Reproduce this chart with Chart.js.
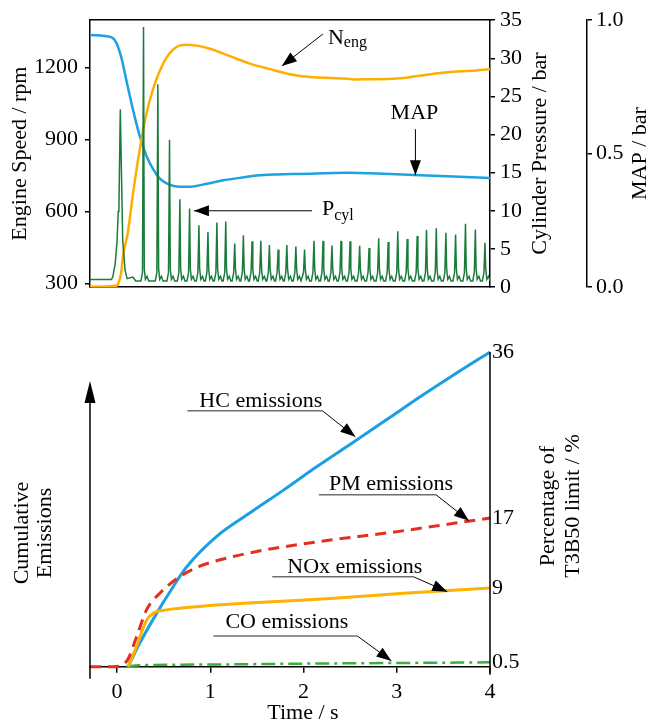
<!DOCTYPE html>
<html>
<head>
<meta charset="utf-8">
<script src="https://cdn.jsdelivr.net/npm/chart.js@4.4.1/dist/chart.umd.min.js"></script>
<style>
  html, body { margin: 0; padding: 0; background: #fff; }
  #page { position: relative; width: 649px; height: 725px; }
  #engine { position: absolute; left: 0; top: 0; }
  #emissions { position: absolute; left: 0; top: 310px; }
</style>
</head>
<body>
<div id="page">
  <canvas id="engine" width="649" height="310"></canvas>
  <canvas id="emissions" width="649" height="415"></canvas>
</div>
<script>
// shared time axis (s)
const T_MIN = -0.29;
const T_MAX = 4.0;
const timeTicks = [0, 1, 2, 3, 4];

// engine speed / rpm
const nengTime = [-0.29, -0.01, 0.008, 0.043, 0.064, 0.115, 0.169, 0.244, 0.316, 0.387, 0.459, 0.531, 0.602, 0.674, 0.746, 0.853, 0.996, 1.211, 1.426, 1.641, 1.856, 2.071, 2.286, 2.441, 2.577, 2.717, 2.9, 3.07, 3.25, 3.44, 3.61, 3.8, 4.0];
const nengRpm  = [286, 290, 295, 341, 416, 510, 668, 859, 1009, 1111, 1186, 1241, 1275, 1292, 1295, 1291, 1278, 1247, 1216, 1193, 1172, 1160, 1156, 1154, 1150, 1151, 1152, 1156, 1166, 1176, 1182, 1186, 1193];
const rpmTicks = [300, 600, 900, 1200];

// manifold absolute pressure / bar
const mapTime = [-0.29, -0.131, -0.046, -0.006, 0.047, 0.101, 0.172, 0.244, 0.316, 0.387, 0.459, 0.567, 0.674, 0.782, 0.961, 1.14, 1.319, 1.499, 1.714, 1.965, 2.467, 2.717, 3.18, 3.61, 4.0];
const mapBar  = [0.945, 0.941, 0.933, 0.914, 0.859, 0.773, 0.663, 0.565, 0.491, 0.442, 0.406, 0.383, 0.376, 0.376, 0.387, 0.400, 0.409, 0.418, 0.422, 0.424, 0.428, 0.426, 0.420, 0.414, 0.409];

// cylinder pressure / bar: cranking and the first firing
const pcylStartTime = [-0.29, -0.06, -0.046, -0.02, 0, 0.013, 0.02, 0.035, 0.061, 0.086, 0.108, 0.17, 0.2];
const pcylStartBar  = [1.0, 1.0, 1.3, 3.0, 6.0, 9.9, 10.3, 23.3, 6.0, 2.2, 1.1, 1.3, 0.8];
// then one peak per cycle
const peakTime = [0.284, 0.438, 0.563, 0.674, 0.778, 0.878, 0.975, 1.071, 1.166, 1.262, 1.355, 1.448, 1.542, 1.634, 1.728, 1.821, 1.918, 2.011, 2.112, 2.209, 2.305, 2.402, 2.499, 2.602, 2.703, 2.806, 2.908, 3.011, 3.112, 3.219, 3.319, 3.424, 3.527, 3.631, 3.737, 3.843, 3.946];
const peakBar  = [34.1, 26.6, 19.3, 11.5, 10.3, 8.1, 7.2, 8.45, 8.6, 5.7, 6.8, 6.0, 6.05, 5.5, 4.9, 5.5, 5.3, 4.9, 6.05, 6.05, 5.45, 6.05, 6.0, 5.4, 5.1, 6.4, 5.9, 7.3, 6.3, 6.7, 7.5, 7.7, 7.1, 6.9, 8.3, 7.55, 5.8];

// cumulative emissions, percentage of T3B50 limit
const hcTime  = [0.118, 0.244, 0.424, 0.602, 0.746, 1.069, 1.427, 1.785, 2.144, 2.538, 2.897, 3.255, 3.613, 4.0];
const hcPct   = [0, 2.7, 6.1, 9.15, 11.4, 14.9, 17.6, 20.2, 22.9, 25.7, 28.3, 30.9, 33.4, 36];
const pmTime  = [-0.29, -0.046, 0.101, 0.209, 0.316, 0.459, 0.674, 0.889, 1.247, 1.606, 1.965, 2.288, 2.897, 3.613, 4.0];
const pmPct   = [0, 0, 0.6, 3.4, 6.5, 8.4, 10.3, 11.5, 12.6, 13.4, 14.0, 14.5, 15.3, 16.4, 17];
const noxTime = [0.118, 0.209, 0.316, 0.387, 0.531, 0.889, 1.606, 2.288, 3.075, 4.0];
const noxPct  = [0, 2.3, 5.3, 6.1, 6.5, 6.9, 7.4, 7.8, 8.4, 9];
const coTime  = [0.1, 0.2, 1, 2, 3, 4];
const coPct   = [0, 0.15, 0.25, 0.35, 0.42, 0.5];
const pctTicks = [0.5, 9, 17, 36];

const SERIF = "'Liberation Serif', 'Times New Roman', serif";
const INK = '#000';
const TICK_FONT = { family: SERIF, size: 22 };
Chart.defaults.font.family = SERIF;
Chart.defaults.font.size = 22;
Chart.defaults.color = INK;

const toPoints = (xs, ys) => xs.map((x, i) => ({ x: x, y: ys[i] }));

// outline of one firing around its peak (dt in s, null = the peak itself)
const spikeShape = [[-0.028, 0.8], [-0.011, 1.9], [0, null], [0.008, 2.4], [0.02, 1.0], [0.038, 1.4], [0.055, 0.8]];
const pcylPoints = toPoints(pcylStartTime, pcylStartBar);
peakTime.forEach((t, i) => {
  spikeShape.forEach(([dt, p]) => pcylPoints.push({ x: t + dt, y: p === null ? peakBar[i] : p }));
});

function arrowHead(ctx, x0, y0, x1, y1, len, half) {
  const a = Math.atan2(y1 - y0, x1 - x0);
  const c = Math.cos(a), s = Math.sin(a);
  ctx.beginPath();
  ctx.moveTo(x1, y1);
  ctx.lineTo(x1 - len * c + half * s, y1 - len * s - half * c);
  ctx.lineTo(x1 - len * c - half * s, y1 - len * s + half * c);
  ctx.closePath();
  ctx.fill();
}

function arrow(ctx, x0, y0, x1, y1, width) {
  ctx.lineWidth = width;
  ctx.beginPath();
  ctx.moveTo(x0, y0);
  ctx.lineTo(x1, y1);
  ctx.stroke();
  arrowHead(ctx, x0, y0, x1, y1, 15, 5.5);
}

// text turned to read upwards, lines stacked left to right
function upText(ctx, lines, x, y, gap) {
  ctx.save();
  ctx.translate(x, y);
  ctx.rotate(-Math.PI / 2);
  ctx.font = '22px ' + SERIF;
  ctx.textAlign = 'center';
  ctx.textBaseline = 'middle';
  lines.forEach((s, i) => ctx.fillText(s, 0, (i - (lines.length - 1) / 2) * gap));
  ctx.restore();
}

function subText(ctx, main, sub, x, y, drop) {
  ctx.textAlign = 'left';
  ctx.textBaseline = 'alphabetic';
  ctx.font = '22px ' + SERIF;
  ctx.fillText(main, x, y);
  const w = ctx.measureText(main).width;
  ctx.font = '16px ' + SERIF;
  ctx.fillText(sub, x + w, y + drop);
}

const engineNotes = {
  id: 'engineNotes',
  afterDraw(chart) {
    const { ctx, chartArea: a, scales } = chart;
    const px = scales.x;
    const midY = (a.top + a.bottom) / 2;
    ctx.save();
    ctx.fillStyle = INK;
    ctx.strokeStyle = INK;
    upText(ctx, ['Engine Speed / rpm'], 20, midY, 0);
    upText(ctx, ['Cylinder Pressure / bar'], scales.yP.left + 50, midY, 0);
    upText(ctx, ['MAP / bar'], scales.yM.left + 53, midY, 0);

    // N_eng
    let tx = px.getPixelForValue(1.768), ty = scales.yL.getPixelForValue(1206);
    arrow(ctx, tx + 41, ty - 32, tx, ty, 1);
    subText(ctx, 'N', 'eng', tx + 46, ty - 22, 3);

    // MAP
    tx = px.getPixelForValue(3.2); ty = scales.yM.getPixelForValue(0.419);
    arrow(ctx, tx, ty - 46, tx, ty, 1);
    ctx.font = '22px ' + SERIF;
    ctx.textAlign = 'center';
    ctx.textBaseline = 'alphabetic';
    ctx.fillText('MAP', tx - 1, ty - 56);

    // P_cyl
    tx = px.getPixelForValue(0.825); ty = scales.yP.getPixelForValue(10.0);
    arrow(ctx, tx + 118, ty, tx, ty, 1);
    subText(ctx, 'P', 'cyl', tx + 128, ty + 4, 5);
    ctx.restore();
  }
};

const frame = { display: true, color: INK, width: 1.5 };
const tickGrid = { display: true, drawOnChartArea: false, drawTicks: true, tickLength: 5, color: INK, lineWidth: 1.5 };

new Chart(document.getElementById('engine'), {
  type: 'line',
  data: {
    datasets: [
      { label: 'Pcyl', data: pcylPoints, yAxisID: 'yP', borderColor: '#1b7b3b', borderWidth: 1.5, tension: 0 },
      { label: 'Neng', data: toPoints(nengTime, nengRpm), yAxisID: 'yL', borderColor: '#ffae00', borderWidth: 2.5, cubicInterpolationMode: 'monotone' },
      { label: 'MAP', data: toPoints(mapTime, mapBar), yAxisID: 'yM', borderColor: '#1da1e2', borderWidth: 2.5, cubicInterpolationMode: 'monotone' }
    ]
  },
  options: {
    responsive: false,
    animation: false,
    layout: { padding: { top: 15, bottom: 23, left: 0, right: 0 } },
    elements: { point: { radius: 0 } },
    plugins: { legend: { display: false }, tooltip: { enabled: false } },
    scales: {
      x: { type: 'linear', position: 'bottom', min: T_MIN, max: T_MAX, ticks: { display: false }, grid: { display: false }, border: frame, afterFit: s => { s.height = 0; } },
      x2: { type: 'linear', position: 'top', min: T_MIN, max: T_MAX, ticks: { display: false }, grid: { display: false }, border: frame, afterFit: s => { s.height = 0; } },
      yL: {
        position: 'left', min: 285, max: 1397,
        afterBuildTicks: s => { s.ticks = rpmTicks.map(v => ({ value: v })); },
        ticks: { padding: 7, font: TICK_FONT, color: INK, callback: v => String(v) },
        grid: tickGrid, border: frame,
        afterFit: s => { s.width = 90; }
      },
      yP: {
        position: 'right', min: 0, max: 35,
        ticks: { stepSize: 5, padding: 5, font: TICK_FONT, color: INK },
        grid: tickGrid, border: frame,
        afterFit: s => { s.width = 97; }
      },
      yM: {
        position: 'right', min: 0, max: 1,
        ticks: { stepSize: 0.5, padding: 4, font: TICK_FONT, color: INK, callback: v => v.toFixed(1) },
        grid: tickGrid, border: frame,
        afterFit: s => { s.width = 62; }
      }
    }
  },
  plugins: [engineNotes]
});

// labels of the emission curves: tip on the curve, then pixel offsets
const emissionNotes = [
  { text: 'HC emissions',  t: 2.556, v: 26.3, elbow: [-33, -26], start: -168, at: [-156, -30] },
  { text: 'PM emissions',  t: 3.774, v: 16.7, elbow: [-33, -26], start: -150, at: [-140, -31] },
  { text: 'NOx emissions', t: 3.542, v: 8.58, elbow: [-34, -15], start: -175, at: [-160, -19] },
  { text: 'CO emissions',  t: 2.943, v: 0.65, elbow: [-34, -25], start: -178, at: [-166, -33] }
];

const emissionAxes = {
  id: 'emissionAxes',
  afterDraw(chart) {
    const { ctx, chartArea: a, scales } = chart;
    ctx.save();
    ctx.fillStyle = INK;
    ctx.strokeStyle = INK;

    // left axis with arrow, right axis line
    ctx.lineWidth = 1.5;
    ctx.beginPath();
    ctx.moveTo(a.left, a.bottom + 12);
    ctx.lineTo(a.left, a.top + 40);
    ctx.moveTo(a.right, a.top);
    ctx.lineTo(a.right, a.bottom + 8);
    ctx.stroke();
    arrowHead(ctx, a.left, a.bottom, a.left, a.top + 29, 22, 5.5);

    upText(ctx, ['Cumulative', 'Emissions'], 34, 223, 23);
    upText(ctx, ['Percentage of', 'T3B50 limit / %'], 561, 196, 25);

    ctx.font = '22px ' + SERIF;
    ctx.textAlign = 'center';
    ctx.textBaseline = 'middle';
    ctx.fillText('Time / s', 303, 403);

    emissionNotes.forEach(n => {
      const tx = scales.x.getPixelForValue(n.t);
      const ty = scales.y.getPixelForValue(n.v);
      const ex = tx + n.elbow[0], ey = ty + n.elbow[1];
      ctx.strokeStyle = '#6e6e6e';
      ctx.lineWidth = 1.5;
      ctx.beginPath();
      ctx.moveTo(tx + n.start, ey);
      ctx.lineTo(ex, ey);
      ctx.stroke();
      ctx.strokeStyle = INK;
      ctx.fillStyle = INK;
      arrow(ctx, ex, ey, tx, ty, 1);
      ctx.font = '22px ' + SERIF;
      ctx.textAlign = 'left';
      ctx.textBaseline = 'alphabetic';
      ctx.fillText(n.text, tx + n.at[0], ty + n.at[1]);
    });
    ctx.restore();
  }
};

new Chart(document.getElementById('emissions'), {
  type: 'line',
  data: {
    datasets: [
      { label: 'PM', data: toPoints(pmTime, pmPct), borderColor: '#e2301f', borderWidth: 3, borderDash: [11, 7], clip: false },
      { label: 'NOx', data: toPoints(noxTime, noxPct), borderColor: '#ffb000', borderWidth: 3, clip: false },
      { label: 'HC', data: toPoints(hcTime, hcPct), borderColor: '#1aa0e2', borderWidth: 3, clip: false },
      { label: 'CO', data: toPoints(coTime, coPct), borderColor: '#3aaf3a', borderWidth: 2.5, borderDash: [14, 5, 3, 5], clip: false }
    ]
  },
  options: {
    responsive: false,
    animation: false,
    layout: { padding: { top: 42, bottom: 0, left: 90, right: 0 } },
    elements: { point: { radius: 0 }, line: { cubicInterpolationMode: 'monotone' } },
    plugins: { legend: { display: false }, tooltip: { enabled: false } },
    scales: {
      x: {
        type: 'linear', position: 'bottom', min: T_MIN, max: T_MAX,
        afterBuildTicks: s => { s.ticks = timeTicks.map(v => ({ value: v })); },
        ticks: { padding: 6, font: TICK_FONT, color: INK },
        grid: { display: true, drawOnChartArea: false, drawTicks: true, tickLength: 6, color: INK, lineWidth: 1.5 },
        border: frame,
        afterFit: s => { s.height = 58.3; }
      },
      y: {
        position: 'right', min: 0, max: 36,
        afterBuildTicks: s => { s.ticks = pctTicks.map(v => ({ value: v })); },
        ticks: { padding: 2, font: TICK_FONT, color: INK, callback: v => String(v) },
        grid: { display: false, drawTicks: false },
        border: { display: false },
        afterFit: s => { s.width = 159; }
      }
    }
  },
  plugins: [emissionAxes]
});
</script>
</body>
</html>
